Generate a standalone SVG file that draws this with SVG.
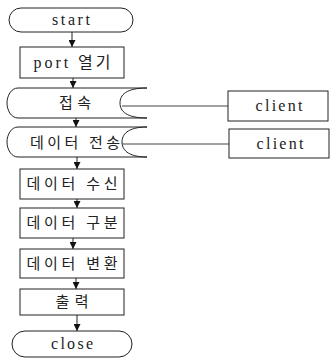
<svg xmlns="http://www.w3.org/2000/svg" width="331" height="358" viewBox="0 0 331 358">
<defs>
<style>
.s{fill:#fff;stroke:#222;stroke-width:1}
.t{font-family:"Liberation Serif","Noto Sans CJK KR",serif;font-size:16px;fill:#222;text-anchor:middle}
.k{font-size:15px}
.c{stroke:#222;stroke-width:1;fill:none;marker-end:url(#ah)}
.l{stroke:#444;stroke-width:1;fill:none}
</style>
<marker id="ah" markerWidth="8" markerHeight="7" refX="7" refY="3.5" orient="auto" markerUnits="userSpaceOnUse">
<path d="M0,0 L7,3.5 L0,7 Z" fill="#111"/>
</marker>
</defs>
<rect width="331" height="358" fill="#fff"/>
<g id="connectors">
<line class="c" x1="72" y1="32" x2="72" y2="47"/>
<line class="c" x1="73" y1="78" x2="73" y2="88"/>
<line class="c" x1="76" y1="118" x2="76" y2="127"/>
<line class="c" x1="77" y1="157" x2="77" y2="169"/>
<line class="c" x1="77" y1="199" x2="77" y2="208"/>
<line class="c" x1="73" y1="238" x2="73" y2="249"/>
<line class="c" x1="76" y1="278" x2="76" y2="289"/>
<line class="c" x1="77" y1="315" x2="77" y2="331"/>
<line class="l" x1="122" y1="106" x2="228" y2="106"/>
<line class="l" x1="122" y1="144" x2="229" y2="144"/>
</g>
<g id="start">
<rect class="s" x="9" y="8" width="124" height="24" rx="12"/>
<text class="t" x="71" y="25" textLength="38">start</text>
</g>
<g id="port">
<rect class="s" x="20" y="47" width="104" height="31"/>
<text class="t" x="72" y="68" textLength="77">port 열기</text>
</g>
<g id="connect">
<path class="s" d="M18,88 L147,88 C126,88 120,95 120,103 C120,111 126,118 147,118 L18,118 C11,118 7,110 7,103 C7,96 11,88 18,88 Z"/>
<text class="t k" x="75" y="108" textLength="32">접속</text>
</g>
<g id="send">
<path class="s" d="M18,127 L147,127 C127,127 122,135 122,142 C122,149 127,157 147,157 L18,157 C11,157 7,149 7,142 C7,135 11,127 18,127 Z"/>
<text class="t k" x="75" y="148" textLength="90">데이터 전송</text>
</g>
<g id="client1">
<rect class="s" x="228" y="91" width="100" height="30"/>
<text class="t" x="279" y="111" textLength="47">client</text>
</g>
<g id="client2">
<rect class="s" x="229" y="129" width="100" height="29"/>
<text class="t" x="280" y="149" textLength="47">client</text>
</g>
<g id="recv">
<rect class="s" x="20" y="169" width="104" height="30"/>
<text class="t k" x="72" y="189" textLength="91">데이터 수신</text>
</g>
<g id="classify">
<rect class="s" x="20" y="208" width="104" height="30"/>
<text class="t k" x="72" y="228" textLength="91">데이터 구분</text>
</g>
<g id="convert">
<rect class="s" x="20" y="249" width="104" height="29"/>
<text class="t k" x="72" y="269" textLength="91">데이터 변환</text>
</g>
<g id="output">
<rect class="s" x="20" y="289" width="104" height="26"/>
<text class="t k" x="72" y="307" textLength="33">출력</text>
</g>
<g id="close">
<rect class="s" x="12" y="331" width="120" height="26" rx="13"/>
<text class="t" x="72" y="349" textLength="42">close</text>
</g>
</svg>
